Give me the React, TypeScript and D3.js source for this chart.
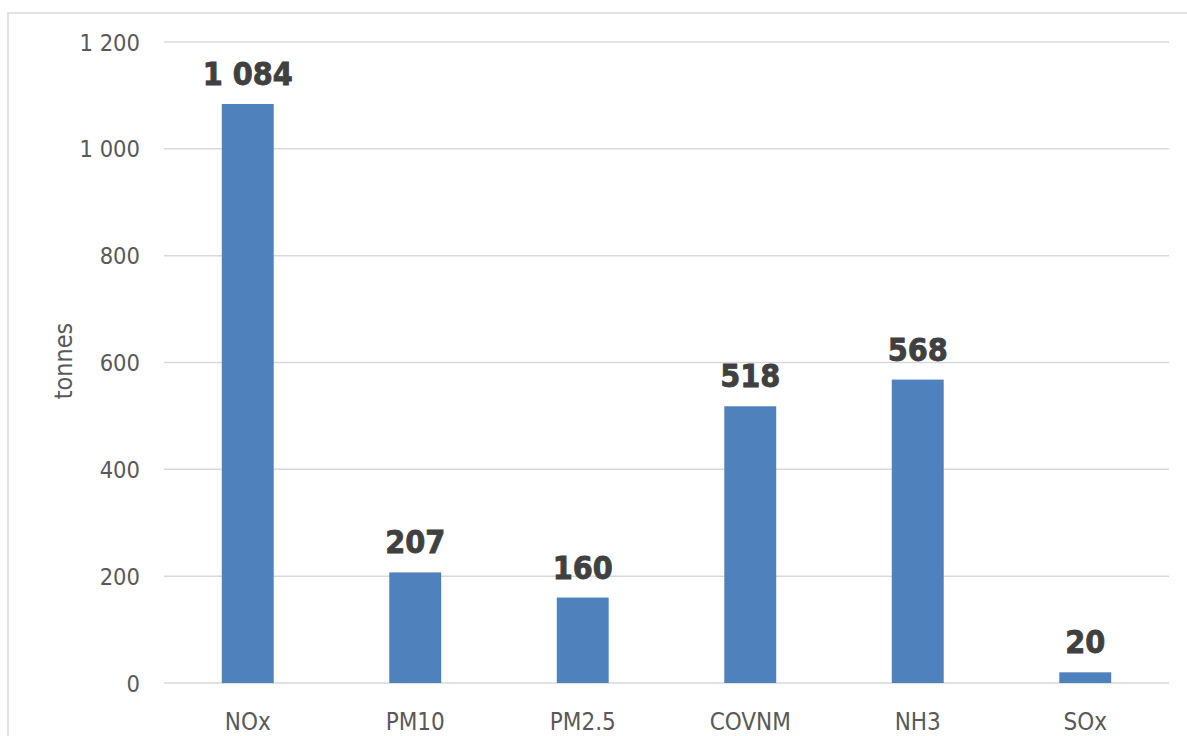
import React from "react";
import * as d3 from "d3";

const categories = ["NOx", "PM10", "PM2.5", "COVNM", "NH3", "SOx"];
const values = [1084, 207, 160, 518, 568, 20];
const yTicks = [0, 200, 400, 600, 800, 1000, 1200];
const yLabel = "tonnes";

const fmt = (v: number) => {
  const s = String(v);
  return s.replace(/\B(?=(\d{3})+(?!\d))/g, " ");
};

export default function App() {
  const W = 1187;
  const H = 736;
  const x = d3
    .scaleBand<string>()
    .domain(categories)
    .range([164, 1169])
    .paddingInner(0.69)
    .paddingOuter(0.345);
  const y = d3.scaleLinear().domain([0, 1200]).range([683, 42]);
  const font = "'DejaVu Sans', Verdana, sans-serif";

  return (
    <svg
      width={W}
      height={H}
      style={{ position: "absolute", left: 0, top: 0, background: "#fff" }}
    >
      <rect x={8} y={13} width={1300} height={800} fill="#fff" stroke="#d9d9d9" strokeWidth={1.5} />
      {yTicks.map((t) => (
        <g key={t}>
          <line x1={164} x2={1169} y1={y(t)} y2={y(t)} stroke="#d9d9d9" strokeWidth={1.5} />
          <text
            x={140}
            y={y(t) + 8.5}
            textAnchor="end"
            fontFamily={font}
            fontStretch="condensed"
            fontSize={23.5}
            fill="#595959"
          >
            {fmt(t)}
          </text>
        </g>
      ))}
      {categories.map((c, i) => (
        <g key={c}>
          <rect
            x={x(c)}
            y={y(values[i])}
            width={x.bandwidth()}
            height={y(0) - y(values[i])}
            fill="#4f81bd"
          />
          <text
            x={(x(c) as number) + x.bandwidth() / 2}
            y={y(values[i]) - 19}
            textAnchor="middle"
            fontFamily={font}
            fontStretch="condensed"
            fontWeight="bold"
            fontSize={32}
            fill="#404040"
            stroke="#404040"
            strokeWidth={0.8}
          >
            {fmt(values[i])}
          </text>
          <text
            x={(x(c) as number) + x.bandwidth() / 2}
            y={730}
            textAnchor="middle"
            fontFamily={font}
            fontStretch="condensed"
            fontSize={24}
            fill="#595959"
          >
            {c}
          </text>
        </g>
      ))}
      <text
        transform={`translate(72,361) rotate(-90)`}
        textAnchor="middle"
        fontFamily={font}
        fontStretch="condensed"
        fontSize={25}
        fill="#595959"
      >
        {yLabel}
      </text>
    </svg>
  );
}
